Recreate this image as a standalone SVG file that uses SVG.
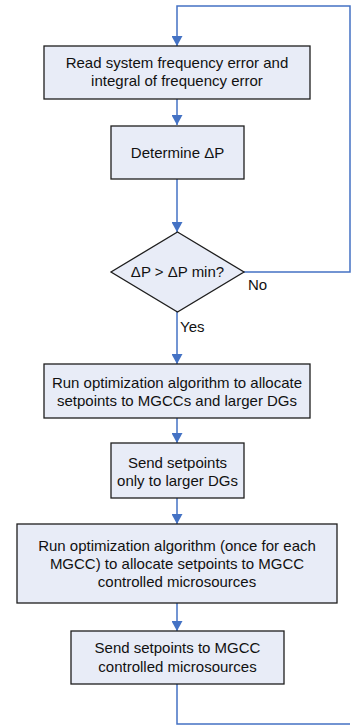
<svg xmlns="http://www.w3.org/2000/svg" width="353" height="726" viewBox="0 0 353 726">
<defs>
<marker id="arr" viewBox="0 0 10 11" refX="10" refY="5.5" markerWidth="11" markerHeight="11" markerUnits="userSpaceOnUse" orient="auto">
<path d="M0,0 L10,5.5 L0,11 z" fill="#4472C4"/>
</marker>
<style>
.box{fill:#E8ECF7;stroke:#1E1E1E;stroke-width:1.3}
.t{font-family:"Liberation Sans",Arial,sans-serif;font-size:15px;fill:#111;text-anchor:middle}
.l{font-family:"Liberation Sans",Arial,sans-serif;font-size:15px;fill:#111}
.c{fill:none;stroke:#4472C4;stroke-width:1.5}
</style>
</defs>
<g id="connectors">
<path class="c" d="M177,99 V125" marker-end="url(#arr)"/>
<path class="c" d="M177,179 V232" marker-end="url(#arr)"/>
<path class="c" d="M177,312 V364" marker-end="url(#arr)"/>
<path class="c" d="M177,418 V443" marker-end="url(#arr)"/>
<path class="c" d="M177,498 V524" marker-end="url(#arr)"/>
<path class="c" d="M177,603 V631" marker-end="url(#arr)"/>
<path class="c" d="M244,272 H350 V6 H177 V46" marker-end="url(#arr)"/>
<path class="c" d="M177,684 V724 H350"/>
<text class="l" x="248" y="290">No</text>
<text class="l" x="180" y="332">Yes</text>
</g>
<g id="n1">
<rect class="box" x="44" y="46" width="266" height="53"/>
<text class="t" x="177" y="68">Read system frequency error and</text>
<text class="t" x="177" y="86">integral of frequency error</text>
</g>
<g id="n2">
<rect class="box" x="111" y="126" width="133" height="53"/>
<text class="t" x="177.5" y="158">Determine ΔP</text>
</g>
<g id="n3">
<path class="box" d="M177.5,232 L244,272 L177.5,312 L111,272 Z"/>
<text class="t" x="177.5" y="277">ΔP &gt; ΔP min?</text>
</g>
<g id="n4">
<rect class="box" x="44" y="364" width="266" height="54"/>
<text class="t" x="177" y="388">Run optimization algorithm to allocate</text>
<text class="t" x="177" y="406">setpoints to MGCCs and larger DGs</text>
</g>
<g id="n5">
<rect class="box" x="111" y="443" width="133" height="55"/>
<text class="t" x="177.5" y="468">Send setpoints</text>
<text class="t" x="177.5" y="486">only to larger DGs</text>
</g>
<g id="n6">
<rect class="box" x="17" y="524" width="320" height="79"/>
<text class="t" x="177" y="551">Run optimization algorithm (once for each</text>
<text class="t" x="177" y="569">MGCC) to allocate setpoints to MGCC</text>
<text class="t" x="177" y="587">controlled microsources</text>
</g>
<g id="n7">
<rect class="box" x="71" y="631" width="213" height="53"/>
<text class="t" x="177.5" y="653">Send setpoints to MGCC</text>
<text class="t" x="177.5" y="672">controlled microsources</text>
</g>
</svg>
